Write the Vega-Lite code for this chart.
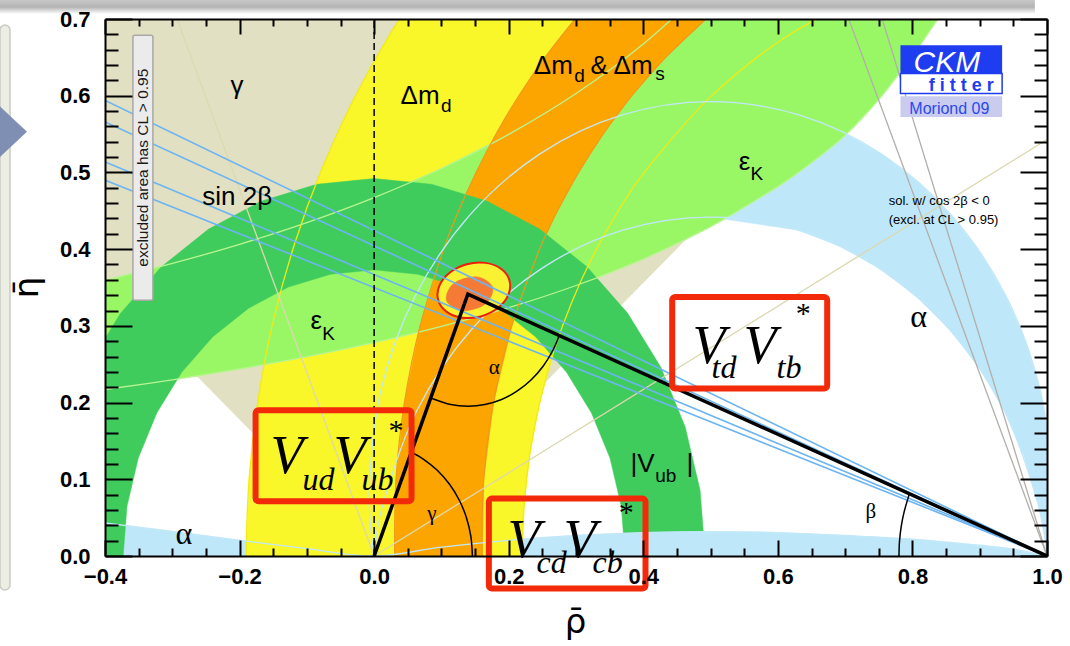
{
"$schema":"https://vega.github.io/schema/vega-lite/v6.json",
"width":942,"height":537,"autosize":"none",
"padding":{"left":105,"top":19,"right":23,"bottom":90},
"background":"white",
"config":{"view":{"stroke":null},"axis":{"grid":false}},
"datasets":{
"poly":[
{"s":"beige","i":0,"x":0,"y":0},{"s":"beige","i":1,"x":0.842,"y":0.75},{"s":"beige","i":2,"x":-0.842,"y":0.75},
{"s":"arrow","i":0,"x":-0.5561,"y":0.5857},{"s":"arrow","i":1,"x":-0.5164,"y":0.5531},{"s":"arrow","i":2,"x":-0.5561,"y":0.5205},
{"s":"alphaR","i":0,"x":0.2464,"y":0.5242},{"s":"alphaR","i":1,"x":0.3687,"y":0.5749},{"s":"alphaR","i":2,"x":0.5,"y":0.5922},{"s":"alphaR","i":3,"x":0.6313,"y":0.5749},{"s":"alphaR","i":4,"x":0.6941,"y":0.5536},{"s":"alphaR","i":5,"x":0.7536,"y":0.5242},{"s":"alphaR","i":6,"x":0.8087,"y":0.4874},{"s":"alphaR","i":7,"x":0.8586,"y":0.4436},{"s":"alphaR","i":8,"x":0.9024,"y":0.3937},{"s":"alphaR","i":9,"x":0.9392,"y":0.3386},{"s":"alphaR","i":10,"x":0.9686,"y":0.2791},{"s":"alphaR","i":11,"x":0.9899,"y":0.2163},{"s":"alphaR","i":12,"x":1.0028,"y":0.1512},{"s":"alphaR","i":13,"x":1.0072,"y":0.085},{"s":"alphaR","i":14,"x":1.0052,"y":0.0408},{"s":"alphaR","i":15,"x":1.0,"y":0.0},{"s":"alphaR","i":16,"x":0.9962,"y":0.0255},{"s":"alphaR","i":17,"x":0.9867,"y":0.0684},{"s":"alphaR","i":18,"x":0.9655,"y":0.1308},{"s":"alphaR","i":19,"x":0.9363,"y":0.1899},{"s":"alphaR","i":20,"x":0.8997,"y":0.2447},{"s":"alphaR","i":21,"x":0.8563,"y":0.2943},{"s":"alphaR","i":22,"x":0.8067,"y":0.3377},{"s":"alphaR","i":23,"x":0.7519,"y":0.3743},{"s":"alphaR","i":24,"x":0.6928,"y":0.4035},{"s":"alphaR","i":25,"x":0.6304,"y":0.4247},{"s":"alphaR","i":26,"x":0.5,"y":0.4418},{"s":"alphaR","i":27,"x":0.3696,"y":0.4247},{"s":"alphaR","i":28,"x":0.2481,"y":0.3743},
{"s":"alphaBL","i":0,"x":-0.45,"y":0.048},{"s":"alphaBL","i":1,"x":-0.4,"y":0.043},{"s":"alphaBL","i":2,"x":-0.3,"y":0.032},{"s":"alphaBL","i":3,"x":-0.2,"y":0.0205},{"s":"alphaBL","i":4,"x":-0.1,"y":0.0095},{"s":"alphaBL","i":5,"x":0,"y":0},{"s":"alphaBL","i":6,"x":0,"y":-0.02},{"s":"alphaBL","i":7,"x":-0.45,"y":-0.02},
{"s":"yellow","i":0,"x":-0.1855,"y":-0.1037},{"s":"yellow","i":1,"x":-0.19,"y":0},{"s":"yellow","i":2,"x":-0.1855,"y":0.1037},{"s":"yellow","i":3,"x":-0.1719,"y":0.2066},{"s":"yellow","i":4,"x":-0.1495,"y":0.308},{"s":"yellow","i":5,"x":-0.1182,"y":0.407},{"s":"yellow","i":6,"x":-0.0785,"y":0.5029},{"s":"yellow","i":7,"x":-0.0306,"y":0.595},{"s":"yellow","i":8,"x":0.0252,"y":0.6826},{"s":"yellow","i":9,"x":0.0884,"y":0.7649},{"s":"yellow","i":10,"x":0.7332,"y":0.733},{"s":"yellow","i":11,"x":0.61,"y":0.6755},{"s":"yellow","i":12,"x":0.4986,"y":0.5975},{"s":"yellow","i":13,"x":0.4025,"y":0.5014},{"s":"yellow","i":14,"x":0.3611,"y":0.4474},{"s":"yellow","i":15,"x":0.3245,"y":0.39},{"s":"yellow","i":16,"x":0.2931,"y":0.3296},{"s":"yellow","i":17,"x":0.267,"y":0.2668},{"s":"yellow","i":18,"x":0.2466,"y":0.2019},{"s":"yellow","i":19,"x":0.2318,"y":0.1354},{"s":"yellow","i":20,"x":0.223,"y":0.068},{"s":"yellow","i":21,"x":0.22,"y":0},{"s":"yellow","i":22,"x":0.223,"y":-0.068},
{"s":"ek","i":0,"x":-0.45,"y":0.2112},{"s":"ek","i":1,"x":-0.4,"y":0.217},{"s":"ek","i":2,"x":-0.3,"y":0.2296},{"s":"ek","i":3,"x":-0.2,"y":0.2438},{"s":"ek","i":4,"x":-0.1,"y":0.2598},{"s":"ek","i":5,"x":0,"y":0.2781},{"s":"ek","i":6,"x":0.1,"y":0.2992},{"s":"ek","i":7,"x":0.2,"y":0.3237},{"s":"ek","i":8,"x":0.3,"y":0.3526},{"s":"ek","i":9,"x":0.4,"y":0.3871},{"s":"ek","i":10,"x":0.5,"y":0.4292},{"s":"ek","i":11,"x":0.6,"y":0.4815},{"s":"ek","i":12,"x":0.65,"y":0.5127},{"s":"ek","i":13,"x":0.7,"y":0.5483},{"s":"ek","i":14,"x":0.75,"y":0.595},{"s":"ek","i":15,"x":0.8,"y":0.652},{"s":"ek","i":16,"x":0.84,"y":0.703},{"s":"ek","i":17,"x":0.87,"y":0.74},{"s":"ek","i":18,"x":0.5,"y":0.7475},{"s":"ek","i":19,"x":0.4,"y":0.6674},{"s":"ek","i":20,"x":0.3,"y":0.6028},{"s":"ek","i":21,"x":0.2,"y":0.5496},{"s":"ek","i":22,"x":0.1,"y":0.5051},{"s":"ek","i":23,"x":0,"y":0.4672},{"s":"ek","i":24,"x":-0.1,"y":0.4346},{"s":"ek","i":25,"x":-0.2,"y":0.4063},{"s":"ek","i":26,"x":-0.3,"y":0.3814},{"s":"ek","i":27,"x":-0.4,"y":0.3594},{"s":"ek","i":28,"x":-0.45,"y":0.3493},
{"s":"orange","i":0,"x":0.0313,"y":-0.02},{"s":"orange","i":1,"x":0.0305,"y":0},{"s":"orange","i":2,"x":0.0325,"y":0.1},{"s":"orange","i":3,"x":0.045,"y":0.2},{"s":"orange","i":4,"x":0.0683,"y":0.3},{"s":"orange","i":5,"x":0.1033,"y":0.4},{"s":"orange","i":6,"x":0.1256,"y":0.45},{"s":"orange","i":7,"x":0.1515,"y":0.5},{"s":"orange","i":8,"x":0.1812,"y":0.55},{"s":"orange","i":9,"x":0.2151,"y":0.6},{"s":"orange","i":10,"x":0.254,"y":0.65},{"s":"orange","i":11,"x":0.2986,"y":0.7},{"s":"orange","i":12,"x":0.35,"y":0.75},{"s":"orange","i":13,"x":0.5673,"y":0.75},{"s":"orange","i":14,"x":0.4933,"y":0.7},{"s":"orange","i":15,"x":0.4333,"y":0.65},{"s":"orange","i":16,"x":0.383,"y":0.6},{"s":"orange","i":17,"x":0.3403,"y":0.55},{"s":"orange","i":18,"x":0.3038,"y":0.5},{"s":"orange","i":19,"x":0.2725,"y":0.45},{"s":"orange","i":20,"x":0.2459,"y":0.4},{"s":"orange","i":21,"x":0.2046,"y":0.3},{"s":"orange","i":22,"x":0.1774,"y":0.2},{"s":"orange","i":23,"x":0.1629,"y":0.1},{"s":"orange","i":24,"x":0.1605,"y":0},{"s":"orange","i":25,"x":0.1615,"y":-0.02},
{"s":"vub","i":0,"x":0.4845,"y":-0.0854},{"s":"vub","i":1,"x":0.492,"y":0},{"s":"vub","i":2,"x":0.4845,"y":0.0854},{"s":"vub","i":3,"x":0.4623,"y":0.1683},{"s":"vub","i":4,"x":0.4261,"y":0.246},{"s":"vub","i":5,"x":0.3769,"y":0.3163},{"s":"vub","i":6,"x":0.3163,"y":0.3769},{"s":"vub","i":7,"x":0.246,"y":0.4261},{"s":"vub","i":8,"x":0.1683,"y":0.4623},{"s":"vub","i":9,"x":0.0854,"y":0.4845},{"s":"vub","i":10,"x":0,"y":0.492},{"s":"vub","i":11,"x":-0.0854,"y":0.4845},{"s":"vub","i":12,"x":-0.1683,"y":0.4623},{"s":"vub","i":13,"x":-0.246,"y":0.4261},{"s":"vub","i":14,"x":-0.3163,"y":0.3769},{"s":"vub","i":15,"x":-0.3769,"y":0.3163},{"s":"vub","i":16,"x":-0.4261,"y":0.246},{"s":"vub","i":17,"x":-0.4623,"y":0.1683},{"s":"vub","i":18,"x":-0.4845,"y":0.0854},{"s":"vub","i":19,"x":-0.492,"y":0},{"s":"vub","i":20,"x":-0.4845,"y":-0.0854},{"s":"vub","i":21,"x":-0.3673,"y":-0.0648},{"s":"vub","i":22,"x":-0.373,"y":0},{"s":"vub","i":23,"x":-0.3673,"y":0.0648},{"s":"vub","i":24,"x":-0.3505,"y":0.1276},{"s":"vub","i":25,"x":-0.323,"y":0.1865},{"s":"vub","i":26,"x":-0.2857,"y":0.2398},{"s":"vub","i":27,"x":-0.2398,"y":0.2857},{"s":"vub","i":28,"x":-0.1865,"y":0.323},{"s":"vub","i":29,"x":-0.1276,"y":0.3505},{"s":"vub","i":30,"x":-0.0648,"y":0.3673},{"s":"vub","i":31,"x":0,"y":0.373},{"s":"vub","i":32,"x":0.0648,"y":0.3673},{"s":"vub","i":33,"x":0.1276,"y":0.3505},{"s":"vub","i":34,"x":0.1865,"y":0.323},{"s":"vub","i":35,"x":0.2398,"y":0.2857},{"s":"vub","i":36,"x":0.2857,"y":0.2398},{"s":"vub","i":37,"x":0.323,"y":0.1865},{"s":"vub","i":38,"x":0.3505,"y":0.1276},{"s":"vub","i":39,"x":0.3673,"y":0.0648},{"s":"vub","i":40,"x":0.373,"y":0},{"s":"vub","i":41,"x":0.3673,"y":-0.0648},
{"s":"alphaBR","i":0,"x":0.2205,"y":-0.02},{"s":"alphaBR","i":1,"x":0.2205,"y":0.022},{"s":"alphaBR","i":2,"x":0.3,"y":0.0268},{"s":"alphaBR","i":3,"x":0.4,"y":0.0306},{"s":"alphaBR","i":4,"x":0.5,"y":0.0319},{"s":"alphaBR","i":5,"x":0.6,"y":0.0306},{"s":"alphaBR","i":6,"x":0.7,"y":0.0268},{"s":"alphaBR","i":7,"x":0.8,"y":0.022},{"s":"alphaBR","i":8,"x":0.9,"y":0.014},{"s":"alphaBR","i":9,"x":0.95,"y":0.009},{"s":"alphaBR","i":10,"x":1.0,"y":0},{"s":"alphaBR","i":11,"x":1.0,"y":-0.02},
{"s":"ell","i":0,"x":0.2012,"y":0.3589},{"s":"ell","i":1,"x":0.1993,"y":0.3401},{"s":"ell","i":2,"x":0.1837,"y":0.3232},{"s":"ell","i":3,"x":0.1585,"y":0.3123},{"s":"ell","i":4,"x":0.1306,"y":0.3107},{"s":"ell","i":5,"x":0.1073,"y":0.3186},{"s":"ell","i":6,"x":0.0951,"y":0.3339},{"s":"ell","i":7,"x":0.097,"y":0.3525},{"s":"ell","i":8,"x":0.1126,"y":0.3696},{"s":"ell","i":9,"x":0.1377,"y":0.3804},{"s":"ell","i":10,"x":0.1657,"y":0.3821},{"s":"ell","i":11,"x":0.189,"y":0.3741},
{"s":"ellH","i":0,"x":0.1762,"y":0.3499},{"s":"ellH","i":1,"x":0.1645,"y":0.3279},{"s":"ellH","i":2,"x":0.13,"y":0.3198},{"s":"ellH","i":3,"x":0.1073,"y":0.3337},{"s":"ellH","i":4,"x":0.119,"y":0.3558},{"s":"ellH","i":5,"x":0.1535,"y":0.3638}
],
"lines":[
{"s":"ekL","i":0,"x":-0.45,"y":0.2112},{"s":"ekL","i":1,"x":-0.4,"y":0.217},{"s":"ekL","i":2,"x":-0.3,"y":0.2296},{"s":"ekL","i":3,"x":-0.2,"y":0.2438},{"s":"ekL","i":4,"x":-0.1,"y":0.2598},{"s":"ekL","i":5,"x":0,"y":0.2781},{"s":"ekL","i":6,"x":0.1,"y":0.2992},{"s":"ekL","i":7,"x":0.2,"y":0.3237},{"s":"ekL","i":8,"x":0.3,"y":0.3526},{"s":"ekL","i":9,"x":0.4,"y":0.3871},{"s":"ekL","i":10,"x":0.5,"y":0.4292},{"s":"ekL","i":11,"x":0.6,"y":0.4815},{"s":"ekL","i":12,"x":0.65,"y":0.5127},{"s":"ekL","i":13,"x":0.7,"y":0.5483},{"s":"ekL","i":14,"x":0.75,"y":0.595},{"s":"ekL","i":15,"x":0.8,"y":0.652},{"s":"ekL","i":16,"x":0.84,"y":0.703},
{"s":"ekU","i":0,"x":-0.45,"y":0.3493},{"s":"ekU","i":1,"x":-0.4,"y":0.3594},{"s":"ekU","i":2,"x":-0.3,"y":0.3814},{"s":"ekU","i":3,"x":-0.2,"y":0.4063},{"s":"ekU","i":4,"x":-0.1,"y":0.4346},{"s":"ekU","i":5,"x":0,"y":0.4672},{"s":"ekU","i":6,"x":0.1,"y":0.5051},{"s":"ekU","i":7,"x":0.2,"y":0.5496},{"s":"ekU","i":8,"x":0.3,"y":0.6028},{"s":"ekU","i":9,"x":0.4,"y":0.6674},{"s":"ekU","i":10,"x":0.5,"y":0.7475},
{"s":"yelO","i":0,"x":-0.1855,"y":-0.1037},{"s":"yelO","i":1,"x":-0.19,"y":0},{"s":"yelO","i":2,"x":-0.1855,"y":0.1037},{"s":"yelO","i":3,"x":-0.1719,"y":0.2066},{"s":"yelO","i":4,"x":-0.1495,"y":0.308},{"s":"yelO","i":5,"x":-0.1182,"y":0.407},{"s":"yelO","i":6,"x":-0.0785,"y":0.5029},{"s":"yelO","i":7,"x":-0.0306,"y":0.595},{"s":"yelO","i":8,"x":0.0252,"y":0.6826},{"s":"yelO","i":9,"x":0.0884,"y":0.7649},
{"s":"yelI","i":0,"x":0.7332,"y":0.733},{"s":"yelI","i":1,"x":0.61,"y":0.6755},{"s":"yelI","i":2,"x":0.4986,"y":0.5975},{"s":"yelI","i":3,"x":0.4025,"y":0.5014},{"s":"yelI","i":4,"x":0.3611,"y":0.4474},{"s":"yelI","i":5,"x":0.3245,"y":0.39},{"s":"yelI","i":6,"x":0.2931,"y":0.3296},{"s":"yelI","i":7,"x":0.267,"y":0.2668},{"s":"yelI","i":8,"x":0.2466,"y":0.2019},{"s":"yelI","i":9,"x":0.2318,"y":0.1354},{"s":"yelI","i":10,"x":0.223,"y":0.068},{"s":"yelI","i":11,"x":0.22,"y":0},
{"s":"orO","i":0,"x":0.0305,"y":0},{"s":"orO","i":1,"x":0.0325,"y":0.1},{"s":"orO","i":2,"x":0.045,"y":0.2},{"s":"orO","i":3,"x":0.0683,"y":0.3},{"s":"orO","i":4,"x":0.1033,"y":0.4},{"s":"orO","i":5,"x":0.1256,"y":0.45},{"s":"orO","i":6,"x":0.1515,"y":0.5},{"s":"orO","i":7,"x":0.1812,"y":0.55},{"s":"orO","i":8,"x":0.2151,"y":0.6},{"s":"orO","i":9,"x":0.254,"y":0.65},{"s":"orO","i":10,"x":0.2986,"y":0.7},
{"s":"orI","i":0,"x":0.4933,"y":0.7},{"s":"orI","i":1,"x":0.4333,"y":0.65},{"s":"orI","i":2,"x":0.383,"y":0.6},{"s":"orI","i":3,"x":0.3403,"y":0.55},{"s":"orI","i":4,"x":0.3038,"y":0.5},{"s":"orI","i":5,"x":0.2725,"y":0.45},{"s":"orI","i":6,"x":0.2459,"y":0.4},{"s":"orI","i":7,"x":0.2046,"y":0.3},{"s":"orI","i":8,"x":0.1774,"y":0.2},{"s":"orI","i":9,"x":0.1629,"y":0.1},{"s":"orI","i":10,"x":0.1605,"y":0},
{"s":"aO","i":0,"x":1.0,"y":0.0},{"s":"aO","i":1,"x":1.0072,"y":0.085},{"s":"aO","i":2,"x":0.9899,"y":0.2163},{"s":"aO","i":3,"x":0.9392,"y":0.3386},{"s":"aO","i":4,"x":0.8586,"y":0.4436},{"s":"aO","i":5,"x":0.7536,"y":0.5242},{"s":"aO","i":6,"x":0.6313,"y":0.5749},{"s":"aO","i":7,"x":0.5,"y":0.5922},{"s":"aO","i":8,"x":0.3687,"y":0.5749},{"s":"aO","i":9,"x":0.2464,"y":0.5242},{"s":"aO","i":10,"x":0.1414,"y":0.4436},{"s":"aO","i":11,"x":0.0608,"y":0.3386},{"s":"aO","i":12,"x":0.0101,"y":0.2163},{"s":"aO","i":13,"x":-0.0072,"y":0.085},{"s":"aO","i":14,"x":0,"y":0},
{"s":"aI","i":0,"x":1.0,"y":0},{"s":"aI","i":1,"x":0.9867,"y":0.0684},{"s":"aI","i":2,"x":0.9363,"y":0.1899},{"s":"aI","i":3,"x":0.8563,"y":0.2943},{"s":"aI","i":4,"x":0.7519,"y":0.3743},{"s":"aI","i":5,"x":0.6304,"y":0.4247},{"s":"aI","i":6,"x":0.5,"y":0.4418},{"s":"aI","i":7,"x":0.3696,"y":0.4247},{"s":"aI","i":8,"x":0.2481,"y":0.3743},{"s":"aI","i":9,"x":0.1437,"y":0.2943},{"s":"aI","i":10,"x":0.0637,"y":0.1899},{"s":"aI","i":11,"x":0.0133,"y":0.0684},{"s":"aI","i":12,"x":0,"y":0},
{"s":"aB","i":0,"x":-0.45,"y":0.048},{"s":"aB","i":1,"x":-0.4,"y":0.043},{"s":"aB","i":2,"x":-0.3,"y":0.032},{"s":"aB","i":3,"x":-0.2,"y":0.0205},{"s":"aB","i":4,"x":-0.1,"y":0.0095},{"s":"aB","i":5,"x":0,"y":0},{"s":"aB","i":6,"x":0.1,"y":0.0115},{"s":"aB","i":7,"x":0.2,"y":0.0204},{"s":"aB","i":8,"x":0.3,"y":0.0268},{"s":"aB","i":9,"x":0.4,"y":0.0306},{"s":"aB","i":10,"x":0.5,"y":0.0319},{"s":"aB","i":11,"x":0.6,"y":0.0306},{"s":"aB","i":12,"x":0.7,"y":0.0268},{"s":"aB","i":13,"x":0.8,"y":0.022},{"s":"aB","i":14,"x":0.9,"y":0.014},{"s":"aB","i":15,"x":0.95,"y":0.009},{"s":"aB","i":16,"x":1.0,"y":0},
{"s":"g1","i":0,"x":0,"y":0},{"s":"g1","i":1,"x":-0.3138,"y":0.75},
{"s":"g2","i":0,"x":0,"y":0},{"s":"g2","i":1,"x":1.05,"y":0.57},
{"s":"gr1","i":0,"x":1,"y":0},{"s":"gr1","i":1,"x":0.6632,"y":0.8},
{"s":"gr2","i":0,"x":1,"y":0},{"s":"gr2","i":1,"x":0.72,"y":0.8},
{"s":"s1","i":0,"x":1,"y":0},{"s":"s1","i":1,"x":-0.45,"y":0.6152},
{"s":"s2","i":0,"x":1,"y":0},{"s":"s2","i":1,"x":-0.45,"y":0.5862},
{"s":"s3","i":0,"x":1,"y":0},{"s":"s3","i":1,"x":-0.45,"y":0.532},
{"s":"s4","i":0,"x":1,"y":0},{"s":"s4","i":1,"x":-0.45,"y":0.5074},
{"s":"tri","i":0,"x":0,"y":0},{"s":"tri","i":1,"x":0.1393,"y":0.3412},{"s":"tri","i":2,"x":1,"y":0},
{"s":"arcA","i":0,"x":0.0841,"y":0.206},{"s":"arcA","i":1,"x":0.114,"y":0.1974},{"s":"arcA","i":2,"x":0.1393,"y":0.1952},{"s":"arcA","i":3,"x":0.1646,"y":0.1974},{"s":"arcA","i":4,"x":0.1893,"y":0.204},{"s":"arcA","i":5,"x":0.2123,"y":0.2148},{"s":"arcA","i":6,"x":0.2331,"y":0.2294},{"s":"arcA","i":7,"x":0.2511,"y":0.2474},{"s":"arcA","i":8,"x":0.2657,"y":0.2682},{"s":"arcA","i":9,"x":0.2751,"y":0.2875},
{"s":"arcG","i":0,"x":0.146,"y":0},{"s":"arcG","i":1,"x":0.1438,"y":0.0254},{"s":"arcG","i":2,"x":0.1372,"y":0.0499},{"s":"arcG","i":3,"x":0.1264,"y":0.073},{"s":"arcG","i":4,"x":0.1118,"y":0.0938},{"s":"arcG","i":5,"x":0.0938,"y":0.1118},{"s":"arcG","i":6,"x":0.073,"y":0.1264},{"s":"arcG","i":7,"x":0.0552,"y":0.1352},
{"s":"arcB","i":0,"x":0.78,"y":0},{"s":"arcB","i":1,"x":0.7808,"y":0.0192},{"s":"arcB","i":2,"x":0.7833,"y":0.0382},{"s":"arcB","i":3,"x":0.7875,"y":0.0569},{"s":"arcB","i":4,"x":0.7954,"y":0.081},
{"s":"dash","i":0,"x":0,"y":0},{"s":"dash","i":1,"x":0,"y":0.7}
],
"txt":[
{"g":"big","t":"γ","x":-0.2134,"y":0.6024},
{"g":"big","t":"Δm","x":0.0392,"y":0.5897},
{"g":"big","t":"Δm","x":0.2373,"y":0.6289},
{"g":"big","t":"& Δm","x":0.3215,"y":0.6289},
{"g":"big","t":"ε","x":0.5419,"y":0.5028},
{"g":"big","t":"ε","x":-0.0945,"y":0.2964},
{"g":"big","t":"sin 2β","x":-0.2554,"y":0.4571},
{"g":"big","t":"|V","x":0.381,"y":0.1095},
{"g":"big","t":"|","x":0.4642,"y":0.1095},
{"g":"sub","t":"d","x":0.0995,"y":0.5788},
{"g":"sub","t":"d","x":0.2975,"y":0.618},
{"g":"sub","t":"s","x":0.4177,"y":0.6202},
{"g":"sub","t":"K","x":0.5593,"y":0.4898},
{"g":"sub","t":"K","x":-0.0771,"y":0.2811},
{"g":"sub","t":"ub","x":0.4177,"y":0.0965},
{"g":"alpha","t":"α","x":0.7969,"y":0.2985},
{"g":"alpha","t":"α","x":-0.2951,"y":0.0162},
{"g":"small","t":"α","x":0.1704,"y":0.2378},
{"g":"small","t":"γ","x":0.0789,"y":0.0465},
{"g":"small","t":"β","x":0.7302,"y":0.0491},
{"g":"note","t":"sol. w/ cos 2β < 0","x":0.7648,"y":0.457},
{"g":"note","t":"(excl. at CL > 0.95)","x":0.7648,"y":0.433},
{"g":"V","t":"V","x":-0.1539,"y":0.1078},
{"g":"V","t":"V","x":-0.0603,"y":0.1078},
{"g":"V","t":"V","x":0.4731,"y":0.2512},
{"g":"V","t":"V","x":0.5489,"y":0.2512},
{"g":"V","t":"V","x":0.1982,"y":-0.0018},
{"g":"V","t":"V","x":0.2814,"y":-0.0018},
{"g":"vsub","t":"ud","x":-0.1063,"y":0.0856},
{"g":"vsub","t":"ub","x":-0.0187,"y":0.0856},
{"g":"vsub","t":"td","x":0.5014,"y":0.2317},
{"g":"vsub","t":"tb","x":0.598,"y":0.2317},
{"g":"vsub","t":"cd","x":0.2414,"y":-0.0227},
{"g":"vsub","t":"cb","x":0.3245,"y":-0.0227},
{"g":"star","t":"*","x":0.0214,"y":0.1508},
{"g":"star","t":"*","x":0.6267,"y":0.3042},
{"g":"star","t":"*","x":0.3637,"y":0.0439},
{"g":"leg","t":"excluded area has CL > 0.95","x":-0.3437,"y":0.5062},
{"g":"ckm","t":"CKM","x":0.8017,"y":0.6306},
{"g":"fit","t":"f i t t e r","x":0.8727,"y":0.6062},
{"g":"mor","t":"Moriond 09","x":0.8549,"y":0.5767},
{"g":"tx","t":"ρ̄","x":0.2993,"y":-0.1},
{"g":"ty","t":"η̄","x":-0.5,"y":0.35}
],
"rects":[
{"g":"top","x":-0.5561,"x2":0.982,"y":0.7065,"y2":0.7248},
{"g":"panel","x":-0.5561,"x2":-0.5412,"y":-0.0443,"y2":0.6922},
{"g":"red","x":-0.1762,"x2":0.0556,"y":0.0713,"y2":0.19},
{"g":"red","x":0.443,"x2":0.6733,"y":0.2182,"y2":0.3376},
{"g":"red","x":0.1705,"x2":0.4033,"y":-0.0425,"y2":0.0748},
{"g":"leg","x":-0.3585,"x2":-0.3288,"y":0.3333,"y2":0.6788},
{"g":"l1","x":0.7822,"x2":0.9333,"y":0.6289,"y2":0.6658},
{"g":"l2","x":0.7822,"x2":0.9333,"y":0.6028,"y2":0.6289},
{"g":"l3","x":0.7822,"x2":0.9333,"y":0.5723,"y2":0.5993}
],
"ax":[{"x":0,"y":0}]
},
"encoding":{
"x":{"field":"x","type":"quantitative","scale":{"domain":[-0.4,1.0],"nice":false,"zero":false},"axis":null},
"y":{"field":"y","type":"quantitative","scale":{"domain":[0,0.7],"nice":false,"zero":false},"axis":null}
},
"layer":[
{"data":{"name":"rects"},"transform":[{"filter":"datum.g==='top'"}],"mark":{"type":"rect","fill":{"gradient":"linear","x1":0,"y1":0,"x2":0,"y2":1,"stops":[{"offset":0,"color":"#c8c8c8"},{"offset":0.5,"color":"#b4b4b4"},{"offset":1,"color":"#ffffff"}]}},"encoding":{"x2":{"field":"x2"},"y2":{"field":"y2"}}},
{"data":{"name":"rects"},"transform":[{"filter":"datum.g==='panel'"}],"mark":{"type":"rect","fill":"#eceee4","stroke":"#c9cbc2","strokeWidth":1.5,"cornerRadius":6},"encoding":{"x2":{"field":"x2"},"y2":{"field":"y2"}}},
{"data":{"name":"poly"},"transform":[{"filter":"datum.s==='arrow'"}],"mark":{"type":"line","interpolate":"linear-closed","fill":"#7f8fb3","stroke":"#7f8fb3","strokeWidth":0.5},"encoding":{"order":{"field":"i","type":"quantitative"}}},
{"data":{"name":"poly"},"transform":[{"filter":"datum.s==='beige'"}],"mark":{"type":"line","interpolate":"linear-closed","fill":"#e2e0c2","stroke":"#e2e0c2","strokeWidth":0.5,"clip":true},"encoding":{"order":{"field":"i","type":"quantitative"}}},
{"data":{"name":"poly"},"transform":[{"filter":"datum.s==='alphaR'"}],"mark":{"type":"line","interpolate":"linear-closed","fill":"#bee8fa","stroke":"#bee8fa","strokeWidth":0.5,"clip":true},"encoding":{"order":{"field":"i","type":"quantitative"}}},
{"data":{"name":"poly"},"transform":[{"filter":"datum.s==='alphaBL'"}],"mark":{"type":"line","interpolate":"linear-closed","fill":"#bee8fa","stroke":"#bee8fa","strokeWidth":0.5,"clip":true},"encoding":{"order":{"field":"i","type":"quantitative"}}},
{"data":{"name":"poly"},"transform":[{"filter":"datum.s==='yellow'"}],"mark":{"type":"line","interpolate":"linear-closed","fill":"#f9f62a","stroke":"#f9f62a","strokeWidth":0.5,"clip":true},"encoding":{"order":{"field":"i","type":"quantitative"}}},
{"data":{"name":"poly"},"transform":[{"filter":"datum.s==='ek'"}],"mark":{"type":"line","interpolate":"linear-closed","fill":"#99f766","stroke":"#99f766","strokeWidth":0.5,"clip":true},"encoding":{"order":{"field":"i","type":"quantitative"}}},
{"data":{"name":"poly"},"transform":[{"filter":"datum.s==='orange'"}],"mark":{"type":"line","interpolate":"linear-closed","fill":"#fca500","stroke":"#fca500","strokeWidth":0.5,"clip":true},"encoding":{"order":{"field":"i","type":"quantitative"}}},
{"data":{"name":"poly"},"transform":[{"filter":"datum.s==='vub'"}],"mark":{"type":"line","interpolate":"linear-closed","fill":"#40cc5c","stroke":"#40cc5c","strokeWidth":0.5,"clip":true},"encoding":{"order":{"field":"i","type":"quantitative"}}},
{"data":{"name":"poly"},"transform":[{"filter":"datum.s==='alphaBR'"}],"mark":{"type":"line","interpolate":"linear-closed","fill":"#bee8fa","stroke":"#bee8fa","strokeWidth":0.5,"clip":true},"encoding":{"order":{"field":"i","type":"quantitative"}}},
{"data":{"name":"lines"},"transform":[{"filter":"datum.s==='ekL' || datum.s==='ekU'"}],"mark":{"type":"line","interpolate":"cardinal","color":"#b8f590","strokeWidth":1.3,"clip":true},"encoding":{"order":{"field":"i","type":"quantitative"},"detail":{"field":"s"}}},
{"data":{"name":"lines"},"transform":[{"filter":"datum.s==='yelO' || datum.s==='yelI'"}],"mark":{"type":"line","interpolate":"cardinal","color":"#f2ea14","strokeWidth":1.3,"clip":true},"encoding":{"order":{"field":"i","type":"quantitative"},"detail":{"field":"s"}}},
{"data":{"name":"lines"},"transform":[{"filter":"datum.s==='orO' || datum.s==='orI'"}],"mark":{"type":"line","interpolate":"cardinal","color":"#ee9a1e","strokeWidth":1.2,"clip":true},"encoding":{"order":{"field":"i","type":"quantitative"},"detail":{"field":"s"}}},
{"data":{"name":"lines"},"transform":[{"filter":"datum.s==='aO' || datum.s==='aI' || datum.s==='aB'"}],"mark":{"type":"line","interpolate":"cardinal","color":"#c2e8f8","strokeWidth":1.3,"clip":true},"encoding":{"order":{"field":"i","type":"quantitative"},"detail":{"field":"s"}}},
{"data":{"name":"lines"},"transform":[{"filter":"datum.s==='g1' || datum.s==='g2'"}],"mark":{"type":"line","color":"#dcd8b0","strokeWidth":1.3,"clip":true},"encoding":{"order":{"field":"i","type":"quantitative"},"detail":{"field":"s"}}},
{"data":{"name":"lines"},"transform":[{"filter":"datum.s==='gr1' || datum.s==='gr2'"}],"mark":{"type":"line","color":"#b2aeaa","strokeWidth":1.3,"clip":true},"encoding":{"order":{"field":"i","type":"quantitative"},"detail":{"field":"s"}}},
{"data":{"name":"poly"},"transform":[{"filter":"datum.s==='ell'"}],"mark":{"type":"line","interpolate":"cardinal-closed","fill":"#f8f232","stroke":"#e8200c","strokeWidth":2,"clip":true},"encoding":{"order":{"field":"i","type":"quantitative"}}},
{"data":{"name":"poly"},"transform":[{"filter":"datum.s==='ellH'"}],"mark":{"type":"line","interpolate":"cardinal-closed","fill":"#f47a36","stroke":"#f47a36","strokeWidth":0.5,"clip":true},"encoding":{"order":{"field":"i","type":"quantitative"}}},
{"data":{"name":"lines"},"transform":[{"filter":"datum.s==='s1' || datum.s==='s2' || datum.s==='s3' || datum.s==='s4'"}],"mark":{"type":"line","color":"#6cb4f2","strokeWidth":1.6,"clip":true},"encoding":{"order":{"field":"i","type":"quantitative"},"detail":{"field":"s"}}},
{"data":{"name":"lines"},"transform":[{"filter":"datum.s==='tri'"}],"mark":{"type":"line","color":"#000000","strokeWidth":3.5,"strokeJoin":"miter","clip":true},"encoding":{"order":{"field":"i","type":"quantitative"}}},
{"data":{"name":"lines"},"transform":[{"filter":"datum.s==='arcA' || datum.s==='arcG' || datum.s==='arcB'"}],"mark":{"type":"line","interpolate":"cardinal","color":"#000000","strokeWidth":1.5,"clip":true},"encoding":{"order":{"field":"i","type":"quantitative"},"detail":{"field":"s"}}},
{"data":{"name":"lines"},"transform":[{"filter":"datum.s==='dash'"}],"mark":{"type":"line","color":"#000000","strokeWidth":1.5,"strokeDash":[7,4],"clip":true},"encoding":{"order":{"field":"i","type":"quantitative"}}},
{"data":{"name":"rects"},"transform":[{"filter":"datum.g==='leg'"}],"mark":{"type":"rect","fill":"#ebebeb","stroke":"#a8a8a8","strokeWidth":1.5,"cornerRadius":2},"encoding":{"x2":{"field":"x2"},"y2":{"field":"y2"}}},
{"data":{"name":"txt"},"transform":[{"filter":"datum.g==='leg'"}],"mark":{"type":"text","align":"center","baseline":"middle","angle":270,"font":"Liberation Sans","fontSize":15.5,"color":"#1a1a1a"},"encoding":{"text":{"field":"t"}}},
{"data":{"name":"rects"},"transform":[{"filter":"datum.g==='l1'"}],"mark":{"type":"rect","fill":"#1e3cf0"},"encoding":{"x2":{"field":"x2"},"y2":{"field":"y2"}}},
{"data":{"name":"rects"},"transform":[{"filter":"datum.g==='l2'"}],"mark":{"type":"rect","fill":"#ffffff","stroke":"#1e3cf0","strokeWidth":1.5},"encoding":{"x2":{"field":"x2"},"y2":{"field":"y2"}}},
{"data":{"name":"rects"},"transform":[{"filter":"datum.g==='l3'"}],"mark":{"type":"rect","fill":"#c9ccef"},"encoding":{"x2":{"field":"x2"},"y2":{"field":"y2"}}},
{"data":{"name":"txt"},"transform":[{"filter":"datum.g==='ckm'"}],"mark":{"type":"text","align":"left","baseline":"alphabetic","font":"Liberation Sans","fontStyle":"italic","fontSize":30,"color":"#ffffff"},"encoding":{"text":{"field":"t"}}},
{"data":{"name":"txt"},"transform":[{"filter":"datum.g==='fit'"}],"mark":{"type":"text","align":"center","baseline":"alphabetic","font":"Liberation Sans","fontWeight":"bold","fontSize":18,"color":"#1e3cf0"},"encoding":{"text":{"field":"t"}}},
{"data":{"name":"txt"},"transform":[{"filter":"datum.g==='mor'"}],"mark":{"type":"text","align":"center","baseline":"alphabetic","font":"Liberation Sans","fontSize":16,"color":"#2a48f0"},"encoding":{"text":{"field":"t"}}},
{"data":{"name":"rects"},"transform":[{"filter":"datum.g==='red'"}],"mark":{"type":"rect","fill":"transparent","stroke":"#f22a0a","strokeWidth":6,"cornerRadius":3},"encoding":{"x2":{"field":"x2"},"y2":{"field":"y2"}}},
{"data":{"name":"txt"},"transform":[{"filter":"datum.g==='big'"}],"mark":{"type":"text","align":"left","baseline":"alphabetic","font":"Liberation Sans","fontSize":26,"color":"#000000"},"encoding":{"text":{"field":"t"}}},
{"data":{"name":"txt"},"transform":[{"filter":"datum.g==='sub'"}],"mark":{"type":"text","align":"left","baseline":"alphabetic","font":"Liberation Sans","fontSize":19,"color":"#000000"},"encoding":{"text":{"field":"t"}}},
{"data":{"name":"txt"},"transform":[{"filter":"datum.g==='alpha'"}],"mark":{"type":"text","align":"left","baseline":"alphabetic","font":"Liberation Serif","fontSize":32,"color":"#000000"},"encoding":{"text":{"field":"t"}}},
{"data":{"name":"txt"},"transform":[{"filter":"datum.g==='small'"}],"mark":{"type":"text","align":"left","baseline":"alphabetic","font":"Liberation Serif","fontSize":21,"color":"#000000"},"encoding":{"text":{"field":"t"}}},
{"data":{"name":"txt"},"transform":[{"filter":"datum.g==='note'"}],"mark":{"type":"text","align":"left","baseline":"alphabetic","font":"Liberation Sans","fontSize":13,"color":"#000000"},"encoding":{"text":{"field":"t"}}},
{"data":{"name":"txt"},"transform":[{"filter":"datum.g==='V'"}],"mark":{"type":"text","align":"left","baseline":"alphabetic","font":"Liberation Serif","fontStyle":"italic","fontSize":54,"color":"#000000"},"encoding":{"text":{"field":"t"}}},
{"data":{"name":"txt"},"transform":[{"filter":"datum.g==='vsub'"}],"mark":{"type":"text","align":"left","baseline":"alphabetic","font":"Liberation Serif","fontStyle":"italic","fontSize":32,"color":"#000000"},"encoding":{"text":{"field":"t"}}},
{"data":{"name":"txt"},"transform":[{"filter":"datum.g==='star'"}],"mark":{"type":"text","align":"left","baseline":"alphabetic","font":"Liberation Serif","fontSize":30,"color":"#000000"},"encoding":{"text":{"field":"t"}}},
{"data":{"name":"txt"},"transform":[{"filter":"datum.g==='tx'"}],"mark":{"type":"text","align":"center","baseline":"alphabetic","font":"DejaVu Sans","fontSize":34,"color":"#000000"},"encoding":{"text":{"field":"t"}}},
{"data":{"name":"txt"},"transform":[{"filter":"datum.g==='ty'"}],"mark":{"type":"text","align":"center","baseline":"alphabetic","angle":270,"font":"DejaVu Sans","fontSize":34,"color":"#000000"},"encoding":{"text":{"field":"t"}}},
{"data":{"name":"ax"},"mark":{"type":"point","opacity":0},
 "encoding":{
 "x":{"field":"x","type":"quantitative","scale":{"domain":[-0.4,1.0],"nice":false,"zero":false},"axis":{"orient":"bottom","values":[-0.4,-0.2,0,0.2,0.4,0.6,0.8,1.0],"format":".1f","ticks":false,"domain":false,"grid":false,"labelFont":"Liberation Sans","labelFontSize":22,"labelFontWeight":"bold","labelColor":"#000000","labelPadding":10,"labelFlush":false,"labelOverlap":false,"title":null,"zindex":1}},
 "y":{"field":"y","type":"quantitative","scale":{"domain":[0,0.7],"nice":false,"zero":false},"axis":{"orient":"left","values":[0,0.1,0.2,0.3,0.4,0.5,0.6,0.7],"format":".1f","ticks":false,"domain":false,"grid":false,"labelFont":"Liberation Sans","labelFontSize":22,"labelFontWeight":"bold","labelColor":"#000000","labelPadding":15,"labelOverlap":false,"labelFlush":false,"title":null,"zindex":1}}}},
{"data":{"name":"ax"},"mark":{"type":"point","opacity":0},
 "encoding":{
 "x":{"field":"x","type":"quantitative","scale":{"domain":[-0.4,1.0],"nice":false,"zero":false},"axis":{"orient":"bottom","values":[-0.4,-0.2,0,0.2,0.4,0.6,0.8,1.0],"labels":false,"ticks":true,"tickSize":-16,"tickWidth":2,"tickColor":"#000000","domain":true,"domainColor":"#000000","domainWidth":2,"grid":false,"title":null,"zindex":1}},
 "y":{"field":"y","type":"quantitative","scale":{"domain":[0,0.7],"nice":false,"zero":false},"axis":{"orient":"left","values":[0,0.1,0.2,0.3,0.4,0.5,0.6,0.7],"labels":false,"ticks":true,"tickSize":-27,"tickWidth":2,"tickColor":"#000000","domain":true,"domainColor":"#000000","domainWidth":2,"grid":false,"title":null,"zindex":1}}}},
{"data":{"name":"ax"},"mark":{"type":"point","opacity":0},
 "encoding":{
 "x":{"field":"x","type":"quantitative","scale":{"domain":[-0.4,1.0],"nice":false,"zero":false},"axis":{"orient":"bottom","values":[-0.35,-0.3,-0.25,-0.15,-0.1,-0.05,0.05,0.1,0.15,0.25,0.3,0.35,0.45,0.5,0.55,0.65,0.7,0.75,0.85,0.9,0.95],"labels":false,"ticks":true,"tickSize":-8,"tickWidth":2,"tickColor":"#000000","domain":false,"grid":false,"title":null,"zindex":1}},
 "y":{"field":"y","type":"quantitative","scale":{"domain":[0,0.7],"nice":false,"zero":false},"axis":{"orient":"left","values":[0.02,0.04,0.06,0.08,0.12,0.14,0.16,0.18,0.22,0.24,0.26,0.28,0.32,0.34,0.36,0.38,0.42,0.44,0.46,0.48,0.52,0.54,0.56,0.58,0.62,0.64,0.66,0.68],"labels":false,"ticks":true,"tickSize":-13,"tickWidth":2,"tickColor":"#000000","domain":false,"grid":false,"title":null,"zindex":1}}}},
{"data":{"name":"ax"},"mark":{"type":"point","opacity":0},
 "encoding":{
 "x":{"field":"x","type":"quantitative","scale":{"domain":[-0.4,1.0],"nice":false,"zero":false},"axis":{"orient":"top","values":[-0.4,-0.2,0,0.2,0.4,0.6,0.8,1.0],"labels":false,"ticks":true,"tickSize":-15,"tickWidth":2,"tickColor":"#000000","domain":true,"domainColor":"#000000","domainWidth":2,"grid":false,"title":null,"zindex":1}},
 "y":{"field":"y","type":"quantitative","scale":{"domain":[0,0.7],"nice":false,"zero":false},"axis":{"orient":"right","values":[0,0.1,0.2,0.3,0.4,0.5,0.6,0.7],"labels":false,"ticks":true,"tickSize":-27,"tickWidth":2,"tickColor":"#000000","domain":true,"domainColor":"#000000","domainWidth":2,"grid":false,"title":null,"zindex":1}}}},
{"data":{"name":"ax"},"mark":{"type":"point","opacity":0},
 "encoding":{
 "x":{"field":"x","type":"quantitative","scale":{"domain":[-0.4,1.0],"nice":false,"zero":false},"axis":{"orient":"top","values":[-0.35,-0.3,-0.25,-0.15,-0.1,-0.05,0.05,0.1,0.15,0.25,0.3,0.35,0.45,0.5,0.55,0.65,0.7,0.75,0.85,0.9,0.95],"labels":false,"ticks":true,"tickSize":-7,"tickWidth":2,"tickColor":"#000000","domain":false,"grid":false,"title":null,"zindex":1}},
 "y":{"field":"y","type":"quantitative","scale":{"domain":[0,0.7],"nice":false,"zero":false},"axis":{"orient":"right","values":[0.02,0.04,0.06,0.08,0.12,0.14,0.16,0.18,0.22,0.24,0.26,0.28,0.32,0.34,0.36,0.38,0.42,0.44,0.46,0.48,0.52,0.54,0.56,0.58,0.62,0.64,0.66,0.68],"labels":false,"ticks":true,"tickSize":-13,"tickWidth":2,"tickColor":"#000000","domain":false,"grid":false,"title":null,"zindex":1}}}}
],
"resolve":{"axis":{"x":"independent","y":"independent"}}
}
